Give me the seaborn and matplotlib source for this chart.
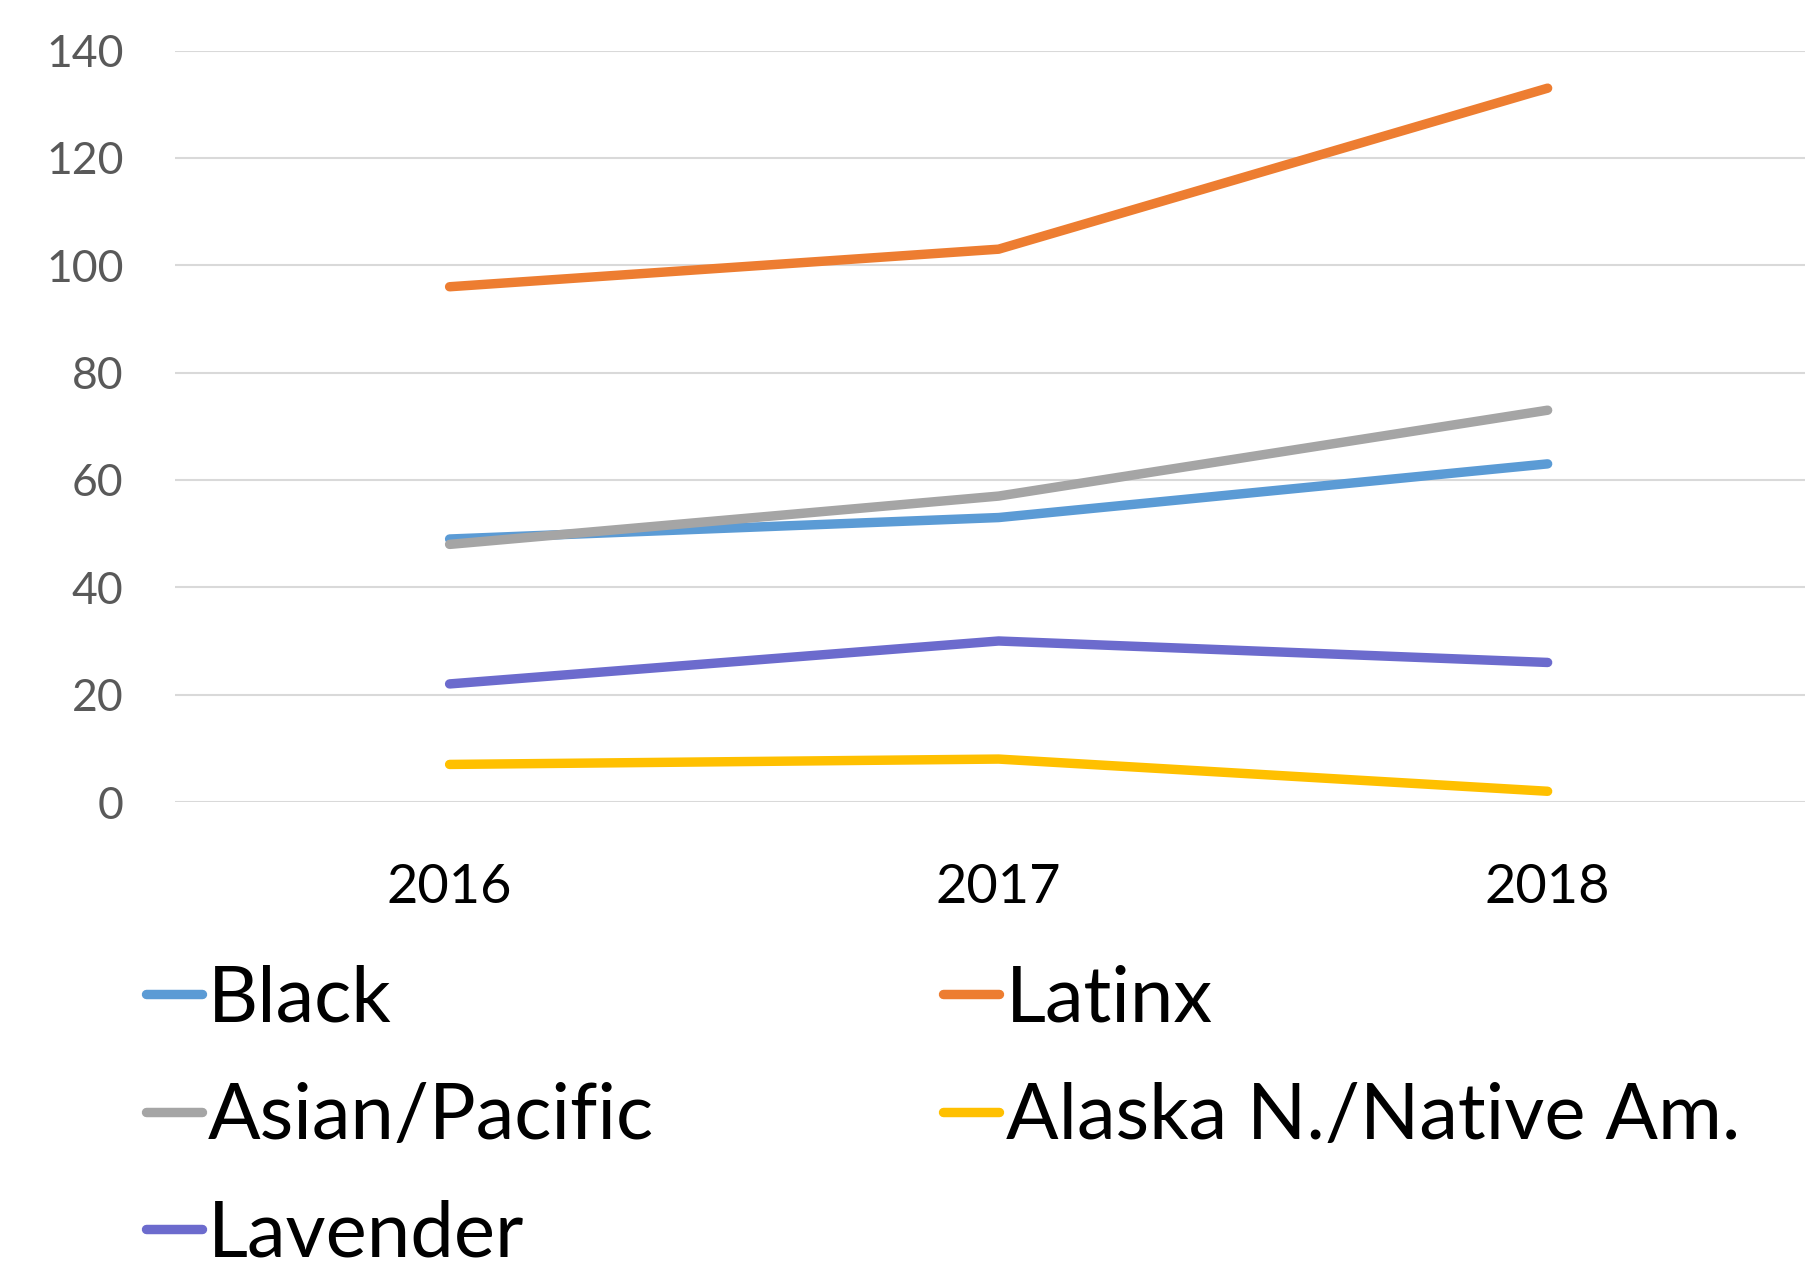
import matplotlib
matplotlib.use("Agg")
from matplotlib import pyplot as plt
from matplotlib.lines import Line2D
import seaborn as sns
import pandas as pd

years = ["2016", "2017", "2018"]
groups = ["Black", "Latinx", "Asian/Pacific", "Alaska N./Native Am.", "Lavender"]
black = [49, 53, 63]
latinx = [96, 103, 133]
asian = [48, 57, 73]
alaska = [7, 8, 2]
lavender = [22, 30, 26]
colors = ["#5B9BD5", "#ED7D31", "#A5A5A5", "#FFC000", "#6C6BCD"]

df = pd.DataFrame({
    "year": years * 5,
    "group": [g for g in groups for _ in years],
    "value": black + latinx + asian + alaska + lavender,
})

sns.set_style("white")
plt.rcParams["font.family"] = ["Lato", "DejaVu Sans"]

fig = plt.figure(figsize=(18.05, 12.68), dpi=100)
ax = fig.add_axes([0.097, 0.3675, 0.9125, 0.5926])

palette = dict(zip(groups, colors))
sns.lineplot(data=df, x="year", y="value", hue="group", palette=palette,
             linewidth=6.8, ax=ax, legend=False, sort=False)
for line in ax.get_lines():
    line.set_solid_capstyle("round")

ax.set_xlim(-0.5, 2.5)
ax.set_ylim(0, 140)
ax.set_yticks(range(0, 141, 20))
ax.grid(axis="y", color="#D9D9D9", linewidth=1.5)
ax.set_axisbelow(True)
for s in ax.spines.values():
    s.set_visible(False)
ax.set_xlabel("")
ax.set_ylabel("")
ax.tick_params(axis="y", length=0, pad=37, labelsize=32, labelcolor="#595959")
ax.tick_params(axis="x", length=0, pad=44, labelsize=39, labelcolor="black")

# legend in row order: Black, Latinx / Asian, Alaska / Lavender
order = [0, 2, 4, 1, 3]
handles = [Line2D([], [], color=colors[i], linewidth=6.8, solid_capstyle="round") for i in order]
labels = [groups[i] for i in order]
fig.legend(handles, labels, ncol=2, loc="upper left", bbox_to_anchor=(0.0635, 0.264),
           frameon=False, fontsize=56, handlelength=0.72, handletextpad=0.08,
           columnspacing=3.72, labelspacing=0.6, borderaxespad=0, labelcolor="black")

fig.savefig("out.png", dpi=100)
